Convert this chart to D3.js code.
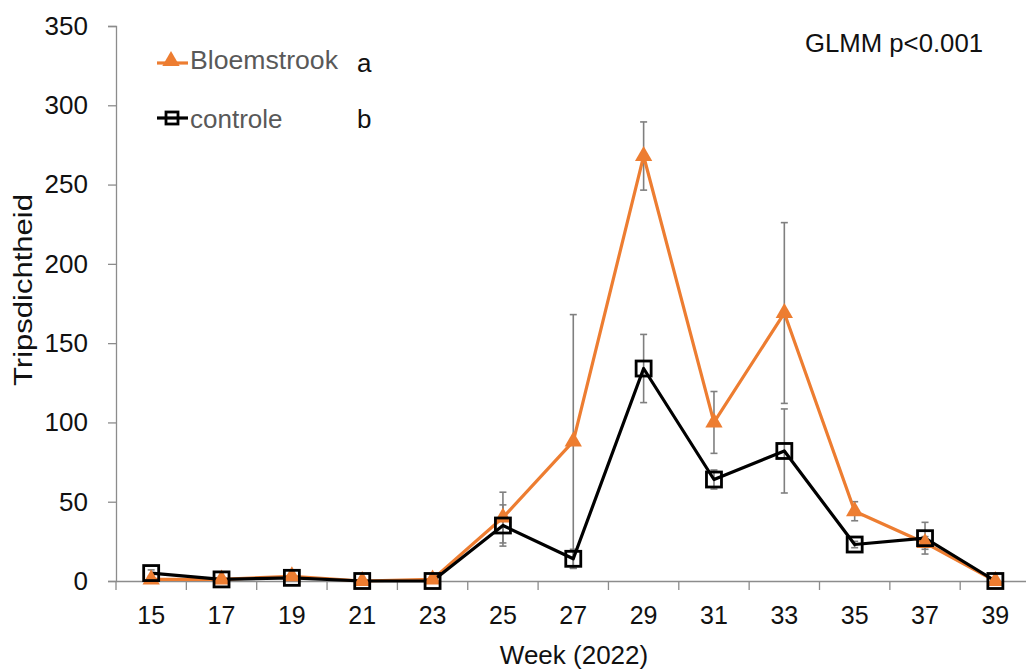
<!DOCTYPE html>
<html>
<head>
<meta charset="utf-8">
<script src="https://cdn.jsdelivr.net/npm/d3@7"></script>
<style>
  body { margin: 0; background: #fff; }
  svg text { font-family: "Liberation Sans", "DejaVu Sans", sans-serif; }
</style>
</head>
<body>
<div id="chart"></div>
<script>
// Data
const weeks = [15, 17, 19, 21, 23, 25, 27, 29, 31, 33, 35, 37, 39];
const bloemstrook = [1, 1, 3, 0, 1, 40, 88, 268, 100, 169, 44, 24, 0];
const bloemstrookErr = [0, 0, 0, 0, 0, 16, 80, 21.5, 19.5, 57, 6, 4, 0];
const controle = [5, 1, 2, 0, 0, 35, 14, 134, 64, 82, 23, 27, 0];
const controleErr = [2, 0, 0, 0, 0, 13, 6, 21.5, 6, 26.5, 2, 10, 0];
const yTicks = [0, 50, 100, 150, 200, 250, 300, 350];

const width = 1026, height = 672;
const plotLeft = 116, plotTop = 26, plotBottom = 581;
const step = 70.35;

const svg = d3.select("#chart").append("svg")
    .attr("width", width)
    .attr("height", height);

const x = d3.scaleBand()
    .domain(weeks)
    .range([plotLeft, plotLeft + step * weeks.length])
    .padding(0);
const cx = d => x(d) + x.bandwidth() / 2;

const y = d3.scaleLinear()
    .domain([0, 350])
    .range([plotBottom, plotTop]);

const axisColor = "#8c8c8c";

// Y as
const yAxis = svg.append("g")
    .attr("transform", `translate(${plotLeft},0)`)
    .call(d3.axisLeft(y).tickValues(yTicks).tickSize(8).tickPadding(20));
yAxis.select(".domain").attr("stroke", axisColor).attr("stroke-width", 1.3);
yAxis.selectAll(".tick line").attr("stroke", axisColor).attr("stroke-width", 1.3);
yAxis.selectAll(".tick text")
    .attr("font-size", 26)
    .attr("fill", "#111");

// X as
const xAxis = svg.append("g")
    .attr("transform", `translate(0,${plotBottom})`)
    .call(d3.axisBottom(x).tickSize(0).tickPadding(25));
xAxis.select(".domain").attr("stroke", axisColor).attr("stroke-width", 1.3);
xAxis.selectAll(".tick text")
    .attr("font-size", 25)
    .attr("fill", "#111");

// tick streepjes tussen de categorieën
const bounds = weeks.map(w => x(w)).concat([x(weeks[weeks.length - 1]) + x.bandwidth()]);
svg.append("g").selectAll("line")
    .data(bounds)
    .enter().append("line")
    .attr("x1", d => d).attr("x2", d => d)
    .attr("y1", plotBottom).attr("y2", plotBottom + 9)
    .attr("stroke", axisColor)
    .attr("stroke-width", 1.3);

// As-titels
svg.append("text")
    .attr("transform", "translate(32,290) rotate(-90)")
    .attr("text-anchor", "middle")
    .attr("font-size", 25)
    .attr("fill", "#111")
    .attr("textLength", 192)
    .attr("lengthAdjust", "spacingAndGlyphs")
    .text("Tripsdichtheid");

svg.append("text")
    .attr("x", 574)
    .attr("y", 664)
    .attr("text-anchor", "middle")
    .attr("font-size", 26)
    .attr("fill", "#111")
    .text("Week (2022)");

// Foutbalken
function errorBars(values, errs) {
    const g = svg.append("g").attr("stroke", "#7f7f7f").attr("stroke-width", 1.6);
    weeks.forEach((w, i) => {
        if (!errs[i]) return;
        const x0 = cx(w);
        const y1 = y(values[i] + errs[i]);
        const y2 = y(Math.max(0, values[i] - errs[i]));
        g.append("line").attr("x1", x0).attr("x2", x0).attr("y1", y1).attr("y2", y2);
        g.append("line").attr("x1", x0 - 3.5).attr("x2", x0 + 3.5).attr("y1", y1).attr("y2", y1);
        g.append("line").attr("x1", x0 - 3.5).attr("x2", x0 + 3.5).attr("y1", y2).attr("y2", y2);
    });
}
errorBars(bloemstrook, bloemstrookErr);
errorBars(controle, controleErr);

const line = d3.line()
    .x((d, i) => cx(weeks[i]))
    .y(d => y(d));

const orange = "#ed7d31";

svg.append("path")
    .datum(bloemstrook)
    .attr("fill", "none")
    .attr("stroke", orange)
    .attr("stroke-width", 3.2)
    .attr("stroke-linejoin", "round")
    .attr("d", line);

svg.append("path")
    .datum(controle)
    .attr("fill", "none")
    .attr("stroke", "#000")
    .attr("stroke-width", 3.2)
    .attr("stroke-linejoin", "round")
    .attr("d", line);

// Markers
const tri = d3.symbol().type(d3.symbolTriangle).size(130);
svg.append("g").selectAll("path")
    .data(bloemstrook)
    .enter().append("path")
    .attr("d", tri)
    .attr("transform", (d, i) => `translate(${cx(weeks[i])},${y(d)})`)
    .attr("fill", orange);

svg.append("g").selectAll("rect")
    .data(controle)
    .enter().append("rect")
    .attr("x", (d, i) => cx(weeks[i]) - 7.5)
    .attr("y", d => y(d) - 7.5)
    .attr("width", 15)
    .attr("height", 15)
    .attr("fill", "none")
    .attr("stroke", "#000")
    .attr("stroke-width", 2.8);

// Legenda
const legend = svg.append("g");
legend.append("line")
    .attr("x1", 157).attr("x2", 188).attr("y1", 63).attr("y2", 63)
    .attr("stroke", orange).attr("stroke-width", 3.2);
legend.append("path")
    .attr("d", tri)
    .attr("transform", "translate(171,61)")
    .attr("fill", orange);
legend.append("text")
    .attr("x", 190).attr("y", 69)
    .attr("font-size", 26).attr("fill", "#595959")
    .attr("textLength", 148)
    .attr("lengthAdjust", "spacingAndGlyphs")
    .text("Bloemstrook");
legend.append("text")
    .attr("x", 357).attr("y", 72)
    .attr("font-size", 26).attr("fill", "#111")
    .text("a");

legend.append("line")
    .attr("x1", 157).attr("x2", 188).attr("y1", 118).attr("y2", 118)
    .attr("stroke", "#000").attr("stroke-width", 3.2);
legend.append("rect")
    .attr("x", 166).attr("y", 112).attr("width", 12).attr("height", 12)
    .attr("fill", "none").attr("stroke", "#000").attr("stroke-width", 2.8);
legend.append("text")
    .attr("x", 190).attr("y", 128)
    .attr("font-size", 26).attr("fill", "#595959")
    .text("controle");
legend.append("text")
    .attr("x", 357).attr("y", 128)
    .attr("font-size", 26).attr("fill", "#111")
    .text("b");

svg.append("text")
    .attr("x", 805).attr("y", 52)
    .attr("font-size", 25).attr("fill", "#111")
    .attr("textLength", 178)
    .attr("lengthAdjust", "spacingAndGlyphs")
    .text("GLMM p<0.001");
</script>
</body>
</html>
